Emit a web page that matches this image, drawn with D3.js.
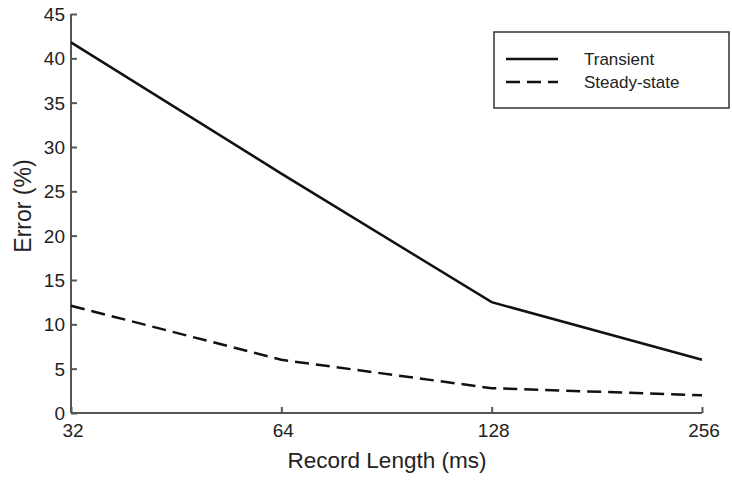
<!DOCTYPE html>
<html><head><meta charset="utf-8">
<script src="https://cdn.jsdelivr.net/npm/d3@7"></script>
<style>body{margin:0;background:#fff}svg{display:block}text{font-family:"Liberation Sans",Arial,sans-serif}</style>
</head><body><svg id="c" width="732" height="481"></svg>
<script>
const recordLengths = [32, 64, 128, 256];
const transient = [41.8, 27.0, 12.5, 6.0];
const steadyState = [12.1, 6.0, 2.8, 2.0];
const yTicks = [0, 5, 10, 15, 20, 25, 30, 35, 40, 45];
const seriesNames = ["Transient", "Steady-state"];

const svg = d3.select("#c");
const x = d3.scaleLog().base(2).domain([32, 256]).range([71, 702]);
const y = d3.scaleLinear().domain([0, 45]).range([413, 14]);

const yAxis = svg.append("g").attr("transform", "translate(71,0)")
  .call(d3.axisRight(y).tickValues(yTicks).tickSize(6).tickFormat(""));
yAxis.select(".domain").attr("d", `M0,${y(45)}V${y(0)}`);
yAxis.selectAll("line,path").attr("stroke", "#555").attr("stroke-width", 2);
svg.append("g").selectAll("text").data(yTicks).join("text")
  .attr("x", 65).attr("y", d => y(d)).attr("dy", "0.36em")
  .attr("text-anchor", "end").attr("font-size", 19).attr("fill", "#222").text(d => d);

const xAxis = svg.append("g").attr("transform", `translate(0,${y(0)})`)
  .call(d3.axisTop(x).tickValues(recordLengths).tickSize(6).tickFormat(""));
xAxis.select(".domain").attr("d", `M${x(32)},0H${x(256)}`);
xAxis.selectAll("line,path").attr("stroke", "#555").attr("stroke-width", 2);
svg.append("g").selectAll("text").data(recordLengths).join("text")
  .attr("x", d => x(d) + 2).attr("y", 437)
  .attr("text-anchor", "middle").attr("font-size", 19).attr("fill", "#222").text(d => d);

svg.append("text").attr("transform", "translate(31,206) rotate(-90)")
  .attr("text-anchor", "middle").attr("font-size", 23).attr("fill", "#222").text("Error (%)");
svg.append("text").attr("x", 387).attr("y", 468)
  .attr("text-anchor", "middle").attr("font-size", 22.5).attr("fill", "#222").text("Record Length (ms)");

const line = d3.line().x((d, i) => x(recordLengths[i])).y(d => y(d));
svg.append("path").datum(transient).attr("d", line)
  .attr("fill", "none").attr("stroke", "#111").attr("stroke-width", 2.5);
svg.append("path").datum(steadyState).attr("d", line)
  .attr("fill", "none").attr("stroke", "#111").attr("stroke-width", 2.5)
  .attr("stroke-dasharray", "14,7");

const lg = svg.append("g");
lg.append("rect").attr("x", 494).attr("y", 32).attr("width", 235).attr("height", 76)
  .attr("fill", "#fff").attr("stroke", "#333").attr("stroke-width", 1.5);
seriesNames.forEach((n, i) => {
  const yy = 59 + i * 23;
  lg.append("line").attr("x1", 506).attr("x2", 558).attr("y1", yy).attr("y2", yy)
    .attr("stroke", "#111").attr("stroke-width", 2.5)
    .attr("stroke-dasharray", i === 1 ? "14,7" : null);
  lg.append("text").attr("x", 584).attr("y", yy).attr("dy", "0.36em")
    .attr("font-size", 17).attr("fill", "#222").text(n);
});
</script></body></html>
